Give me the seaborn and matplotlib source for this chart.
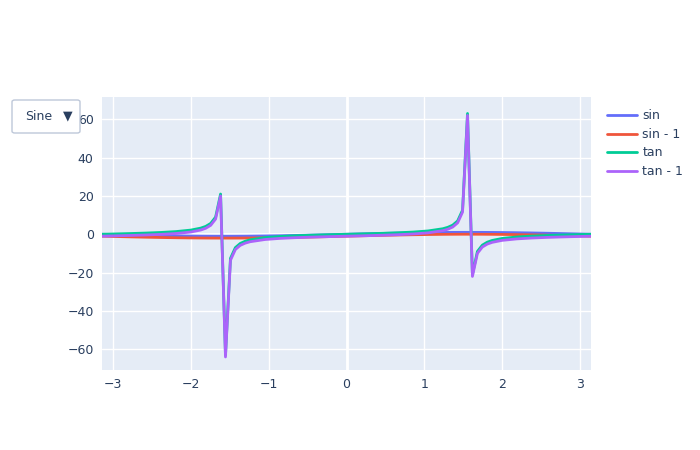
import numpy as np
import pandas as pd
import matplotlib
matplotlib.use("Agg")
import matplotlib.pyplot as plt
import seaborn as sns
from matplotlib.patches import FancyBboxPatch

# x samples (denser near the asymptotes)
x = [-3.142, -2.951, -2.761, -2.570, -2.380, -2.190, -1.999, -1.872, -1.809, -1.745,
     -1.682, -1.618, -1.555, -1.491, -1.428, -1.365, -1.301, -1.238, -1.047, -0.857,
     -0.666, -0.476, -0.286, -0.095,
     0.095, 0.286, 0.476, 0.666, 0.857, 1.047, 1.238, 1.301, 1.365, 1.428,
     1.491, 1.555, 1.618, 1.682, 1.745, 1.809, 1.872, 1.999, 2.190, 2.380,
     2.570, 2.761, 2.951, 3.142]

sin_vals = [0.0, -0.189, -0.372, -0.541, -0.690, -0.815, -0.909, -0.955, -0.972, -0.985,
            -0.994, -0.999, -1.000, -0.997, -0.990, -0.979, -0.964, -0.945, -0.866, -0.756,
            -0.618, -0.458, -0.282, -0.095,
            0.095, 0.282, 0.458, 0.618, 0.756, 0.866, 0.945, 0.964, 0.979, 0.990,
            0.997, 1.000, 0.999, 0.994, 0.985, 0.972, 0.955, 0.909, 0.815, 0.690,
            0.541, 0.372, 0.189, 0.0]

sin_m1_vals = [-1.0, -1.189, -1.372, -1.541, -1.690, -1.815, -1.909, -1.955, -1.972, -1.985,
               -1.994, -1.999, -2.000, -1.997, -1.990, -1.979, -1.964, -1.945, -1.866, -1.756,
               -1.618, -1.458, -1.282, -1.095,
               -0.905, -0.718, -0.542, -0.382, -0.244, -0.134, -0.055, -0.036, -0.021, -0.010,
               -0.003, 0.000, -0.001, -0.006, -0.015, -0.028, -0.045, -0.091, -0.185, -0.310,
               -0.459, -0.628, -0.811, -1.0]

tan_vals = [0.0, 0.193, 0.400, 0.642, 0.955, 1.406, 2.185, 3.22, 4.12, 5.67,
            8.96, 20.99, -63.0, -12.58, -6.96, -4.78, -3.62, -2.89, -1.732, -1.154,
            -0.787, -0.516, -0.294, -0.096,
            0.096, 0.294, 0.516, 0.787, 1.154, 1.732, 2.89, 3.62, 4.78, 6.96,
            12.58, 63.0, -20.99, -8.96, -5.67, -4.12, -3.22, -2.185, -1.406, -0.955,
            -0.642, -0.400, -0.193, 0.0]

tan_m1_vals = [-1.0, -0.807, -0.600, -0.358, -0.045, 0.406, 1.185, 2.22, 3.12, 4.67,
               7.96, 19.99, -64.0, -13.58, -7.96, -5.78, -4.62, -3.89, -2.732, -2.154,
               -1.787, -1.516, -1.294, -1.096,
               -0.904, -0.706, -0.484, -0.213, 0.154, 0.732, 1.89, 2.62, 3.78, 5.96,
               11.58, 62.0, -21.99, -9.96, -6.67, -5.12, -4.22, -3.185, -2.406, -1.955,
               -1.642, -1.400, -1.193, -1.0]

series_names = ["sin", "sin - 1", "tan", "tan - 1"]
colors = ["#636EFA", "#EF553B", "#00CC96", "#AB63FA"]

df = pd.concat([
    pd.DataFrame({"x": x, "y": v, "trace": n})
    for n, v in zip(series_names, [sin_vals, sin_m1_vals, tan_vals, tan_m1_vals])
], ignore_index=True)

sns.set_style("darkgrid", {"axes.facecolor": "#E5ECF6", "grid.color": "white"})
plt.rcParams["font.family"] = ["DejaVu Sans"]
text_col = "#2a3f5f"

fig = plt.figure(figsize=(7, 4.5), dpi=100)
ax = fig.add_axes([102 / 700, 80 / 450, 489 / 700, 273 / 450])

sns.lineplot(data=df, x="x", y="y", hue="trace", palette=colors, hue_order=series_names,
             sort=False, estimator=None, linewidth=2, ax=ax, legend=False, zorder=3)

ax.set_xlim(-np.pi, np.pi)
ax.set_ylim(-70.8, 71.6)
ax.set_xticks([-3, -2, -1, 0, 1, 2, 3])
ax.set_yticks([-60, -40, -20, 0, 20, 40, 60])
ax.grid(True, color="white", linewidth=1)
ax.axhline(0, color="white", linewidth=2, zorder=1)
ax.axvline(0, color="white", linewidth=2, zorder=1)
ax.set_xlabel("")
ax.set_ylabel("")
for s in ax.spines.values():
    s.set_visible(False)
ax.tick_params(length=0, labelsize=9, colors=text_col, pad=6)

# legend
handles = [plt.Line2D([], [], color=c, linewidth=2) for c in colors]
fig.legend(handles, series_names, loc="upper left", bbox_to_anchor=(596 / 700, 1 - 98 / 450),
           frameon=False, fontsize=9, labelcolor=text_col, handlelength=2.4,
           handletextpad=0.4, labelspacing=0.45)

# dropdown button
btn = FancyBboxPatch((12 / 700, 1 - 133 / 450), 68 / 700, 33 / 450,
                     boxstyle="round,pad=0,rounding_size=0.004", transform=fig.transFigure,
                     facecolor="white", edgecolor="#BEC8D9", linewidth=1)
fig.patches.append(btn)
fig.text(25 / 700, 1 - 117 / 450, "Sine", fontsize=9, color=text_col, va="center")
fig.text(68 / 700, 1 - 116 / 450, "▼", fontsize=9, color=text_col, va="center", ha="center")

fig.savefig("out.png", dpi=100, facecolor="white")
